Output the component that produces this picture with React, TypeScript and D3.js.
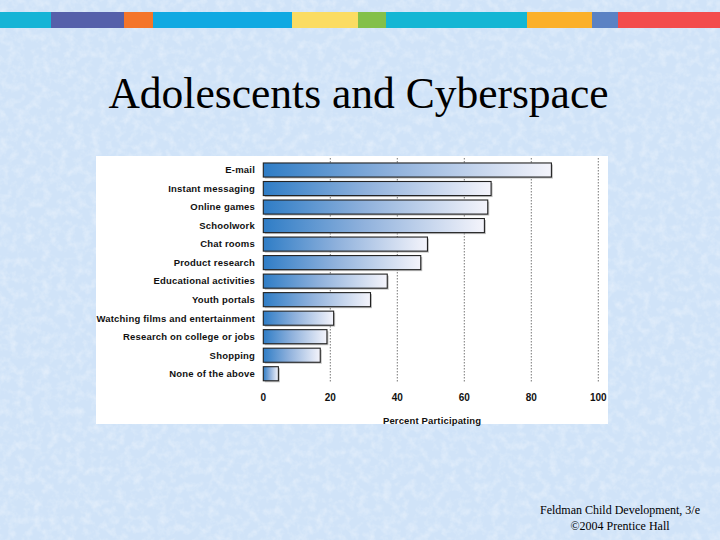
import React from 'react';
import * as d3 from 'd3';

const categories = [
  'E-mail',
  'Instant messaging',
  'Online games',
  'Schoolwork',
  'Chat rooms',
  'Product research',
  'Educational activities',
  'Youth portals',
  'Watching films and entertainment',
  'Research on college or jobs',
  'Shopping',
  'None of the above',
];
const percents = [86, 68, 67, 66, 49, 47, 37, 32, 21, 19, 17, 4.5];
const ticks = [0, 20, 40, 60, 80, 100];
const gridTicks = [20, 40, 60, 80, 100];

// top colour stripe: segment boundaries and colours
const stripeStops = [0, 51, 124, 153, 292, 358, 386, 527, 592, 618, 720];
const stripeColors = ['#16b4d6', '#5560aa', '#f4752a', '#10a9e2', '#fbdc62', '#83c04a', '#14b6d4', '#fbb02a', '#5b82c4', '#f34c4c'];

const W = 720;
const H = 540;

function App() {
  const x = d3.scaleLinear().domain([0, 100]).range([263.3, 598.3]);
  const y = d3
    .scaleBand<string>()
    .domain(categories)
    .range([160.75, 383])
    .paddingInner(0.24)
    .paddingOuter(0.12);

  const rows = categories.map((c, i) => ({ name: c, value: percents[i] }));
  const sans = '"Liberation Sans", Arial, Helvetica, sans-serif';
  const serif = '"Liberation Serif", "Times New Roman", Times, serif';

  return (
    <svg
      width={W}
      height={H}
      viewBox={`0 0 ${W} ${H}`}
      style={{ position: 'absolute', left: 0, top: 0 }}
    >
      <defs>
        <linearGradient id="barGrad" x1="0" y1="0" x2="1" y2="0">
          <stop offset="0%" stopColor="#2f7dc6" />
          <stop offset="45%" stopColor="#8fb1dc" />
          <stop offset="100%" stopColor="#f4f4fb" />
        </linearGradient>
        <filter id="paper" x="0" y="0" width="100%" height="100%">
          <feTurbulence type="fractalNoise" baseFrequency="0.12" numOctaves="3" seed="3" />
          <feColorMatrix
            type="matrix"
            values="0 0 0 0 1  0 0 0 0 1  0 0 0 0 1  0 0 0 1.2 -0.5"
          />
        </filter>
      </defs>

      <rect x={0} y={0} width={W} height={H} fill="#d0e3f8" />
      <rect x={0} y={0} width={W} height={H} filter="url(#paper)" opacity={0.6} />

      {stripeColors.map((c, i) => (
        <rect
          key={i}
          x={stripeStops[i]}
          y={12}
          width={stripeStops[i + 1] - stripeStops[i]}
          height={16}
          fill={c}
        />
      ))}

      <text
        x={358.5}
        y={108}
        textAnchor="middle"
        fontFamily={serif}
        fontSize={43.5}
        fill="#000"
      >
        Adolescents and Cyberspace
      </text>

      <rect x={96} y={156} width={512} height={268} fill="#fff" />

      {gridTicks.map(t => (
        <line
          key={t}
          x1={x(t)}
          x2={x(t)}
          y1={158}
          y2={383}
          stroke="#555"
          strokeWidth={0.8}
          strokeDasharray="1.5,1.5"
        />
      ))}

      {rows.map(d => (
        <g key={d.name}>
          <rect
            x={x(0) + 1.5}
            y={(y(d.name) as number) + 1.5}
            width={x(d.value) - x(0)}
            height={y.bandwidth()}
            fill="#9a9a9a"
            opacity={0.6}
          />
          <rect
            x={x(0)}
            y={y(d.name)}
            width={x(d.value) - x(0)}
            height={y.bandwidth()}
            fill="url(#barGrad)"
            stroke="#222"
            strokeWidth={1.1}
          />
          <text
            x={255}
            y={(y(d.name) as number) + y.bandwidth() / 2}
            dy="0.35em"
            textAnchor="end"
            fontFamily={sans}
            fontWeight="bold"
            fontSize={9.5}
            letterSpacing={0.2}
            fill="#111"
          >
            {d.name}
          </text>
        </g>
      ))}

      {ticks.map(t => (
        <text
          key={t}
          x={x(t)}
          y={401}
          textAnchor="middle"
          fontFamily={sans}
          fontWeight="bold"
          fontSize={10}
          fill="#111"
        >
          {t}
        </text>
      ))}

      <text
        x={432}
        y={423.5}
        textAnchor="middle"
        fontFamily={sans}
        fontWeight="bold"
        fontSize={9.5}
        letterSpacing={0.15}
        fill="#111"
      >
        Percent Participating
      </text>

      <text x={620} y={514} textAnchor="middle" fontFamily={serif} fontSize={12} fill="#000">
        Feldman Child Development, 3/e
      </text>
      <text x={620} y={530} textAnchor="middle" fontFamily={serif} fontSize={12} fill="#000">
        ©2004 Prentice Hall
      </text>
    </svg>
  );
}

export default App;
